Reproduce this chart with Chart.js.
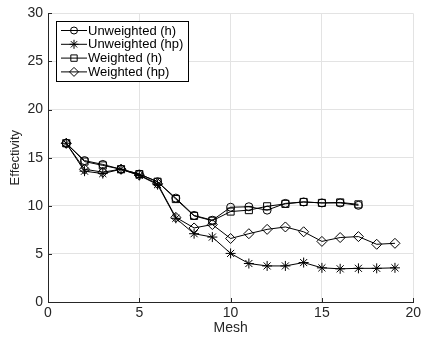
<!DOCTYPE html>
<html>
<head>
<meta charset="utf-8">
<script src="https://cdn.jsdelivr.net/npm/chart.js@4/dist/chart.umd.min.js"></script>
<style>
    html, body { margin: 0; padding: 0; background: #fff; }
    #wrap { width: 424px; height: 337px; position: relative; }
</style>
</head>
<body>
<div id="wrap"><canvas id="chart"></canvas></div>
<script>
// mesh indices
const meshH = [1, 2, 3, 4, 5, 6, 7, 8, 9, 10, 11, 12, 13, 14, 15, 16, 17];
const meshHp = [1, 2, 3, 4, 5, 6, 7, 8, 9, 10, 11, 12, 13, 14, 15, 16, 17, 18, 19];

// effectivity values
const unweightedH = [16.5, 14.7, 14.3, 13.8, 13.3, 12.5, 10.8, 9.0, 8.5, 9.85, 9.9, 9.55, 10.25, 10.4, 10.3, 10.3, 10.05];
const unweightedHp = [16.5, 13.6, 13.35, 13.8, 13.15, 12.2, 8.7, 7.1, 6.75, 5.05, 4.0, 3.75, 3.75, 4.1, 3.55, 3.45, 3.5, 3.5, 3.55];
const weightedH = [16.5, 14.6, 14.2, 13.8, 13.3, 12.5, 10.7, 8.95, 8.45, 9.4, 9.55, 9.95, 10.2, 10.4, 10.3, 10.35, 10.15];
const weightedHp = [16.5, 13.8, 13.5, 13.8, 13.2, 12.3, 8.8, 7.7, 8.05, 6.6, 7.1, 7.55, 7.8, 7.3, 6.3, 6.7, 6.8, 6.0, 6.1];

const seriesNames = ['Unweighted (h)', 'Unweighted (hp)', 'Weighted (h)', 'Weighted (hp)'];
const xTicks = [0, 5, 10, 15, 20];
const yTicks = [0, 5, 10, 15, 20, 25, 30];

const FONT = "'Liberation Sans', Arial, sans-serif";
const AXIS_COLOR = '#262626';

const markers = [
    { style: 'circle', radius: 4 },
    { style: 'star', radius: 5 },
    { style: 'rect', radius: 5 },
    { style: 'rectRot', radius: 5 }
];

function toPoints(xs, ys) {
    return ys.map((y, i) => ({ x: xs[i], y }));
}

function makeSet(i, xs, ys) {
    return {
        label: seriesNames[i],
        data: toPoints(xs, ys),
        borderColor: '#000',
        borderWidth: 1,
        pointStyle: markers[i].style,
        pointRadius: markers[i].radius,
        pointBorderColor: '#000',
        pointBorderWidth: 1,
        pointBackgroundColor: 'rgba(0,0,0,0)',
        tension: 0
    };
}

// inward tick marks, matlab style
const tickPlugin = {
    id: 'inTicks',
    afterDraw(chart) {
        const { ctx, scales: { x, y }, chartArea: a } = chart;
        ctx.save();
        ctx.strokeStyle = AXIS_COLOR;
        ctx.lineWidth = 1;
        ctx.beginPath();
        xTicks.forEach(v => {
            const px = Math.round(x.getPixelForValue(v)) + 0.5;
            ctx.moveTo(px, a.bottom);
            ctx.lineTo(px, a.bottom - 4);
        });
        yTicks.forEach(v => {
            const py = Math.round(y.getPixelForValue(v)) + 0.5;
            ctx.moveTo(a.left, py);
            ctx.lineTo(a.left + 4, py);
        });
        ctx.stroke();
        ctx.restore();
    }
};

function drawMarker(ctx, style, cx, cy, r) {
    ctx.beginPath();
    if (style === 'circle') {
        ctx.arc(cx, cy, r, 0, Math.PI * 2);
    } else if (style === 'rect') {
        const s = r * Math.SQRT1_2;
        ctx.rect(cx - s, cy - s, 2 * s, 2 * s);
    } else if (style === 'rectRot') {
        ctx.moveTo(cx, cy - r);
        ctx.lineTo(cx + r, cy);
        ctx.lineTo(cx, cy + r);
        ctx.lineTo(cx - r, cy);
        ctx.closePath();
    } else if (style === 'star') {
        for (let k = 0; k < 4; k++) {
            const ang = k * Math.PI / 4;
            ctx.moveTo(cx - Math.cos(ang) * r, cy - Math.sin(ang) * r);
            ctx.lineTo(cx + Math.cos(ang) * r, cy + Math.sin(ang) * r);
        }
    }
    ctx.stroke();
}

// boxed legend with line + marker samples
const legendPlugin = {
    id: 'boxLegend',
    afterDraw(chart) {
        const ctx = chart.ctx;
        const left = 56, top = 21, w = 132, h = 60;
        ctx.save();
        ctx.fillStyle = '#fff';
        ctx.fillRect(left, top, w, h);
        ctx.strokeStyle = '#000';
        ctx.lineWidth = 1;
        ctx.strokeRect(left + 0.5, top + 0.5, w, h);
        ctx.font = '13px ' + FONT;
        ctx.textBaseline = 'middle';
        ctx.fillStyle = '#000';
        seriesNames.forEach((name, i) => {
            const cy = top + 9.5 + i * 13.8;
            ctx.beginPath();
            ctx.moveTo(left + 5, cy);
            ctx.lineTo(left + 31, cy);
            ctx.stroke();
            drawMarker(ctx, markers[i].style, left + 18, cy, markers[i].radius - 0.5);
            ctx.fillText(name, left + 32, cy + 0.5);
        });
        ctx.restore();
    }
};

new Chart(document.getElementById('chart'), {
    type: 'line',
    data: {
        datasets: [
            makeSet(0, meshH, unweightedH),
            makeSet(1, meshHp, unweightedHp),
            makeSet(2, meshH, weightedH),
            makeSet(3, meshHp, weightedHp)
        ]
    },
    options: {
        responsive: true,
        maintainAspectRatio: false,
        animation: false,
        layout: { padding: { top: 13, right: 9, left: 8, bottom: 0 } },
        plugins: {
            legend: { display: false },
            tooltip: { enabled: false }
        },
        scales: {
            x: {
                type: 'linear',
                min: 0,
                max: 20,
                afterBuildTicks: s => { s.ticks = xTicks.map(v => ({ value: v })); },
                afterFit: s => { s.height = 35; },
                grid: { color: '#e3e3e3', drawTicks: false },
                border: { color: AXIS_COLOR, width: 1 },
                ticks: { color: AXIS_COLOR, font: { family: FONT, size: 14 }, padding: 3, maxRotation: 0 },
                title: { display: true, text: 'Mesh', color: AXIS_COLOR, font: { family: FONT, size: 14 }, padding: { top: 2, bottom: 0 } }
            },
            y: {
                min: 0,
                max: 30,
                afterBuildTicks: s => { s.ticks = yTicks.map(v => ({ value: v })); },
                afterFit: s => { s.width = 40; },
                grid: { color: '#e3e3e3', drawTicks: false },
                border: { color: AXIS_COLOR, width: 1 },
                ticks: { color: AXIS_COLOR, font: { family: FONT, size: 14 }, padding: 5 },
                title: { display: true, text: 'Effectivity', color: AXIS_COLOR, font: { family: FONT, size: 13 }, padding: { top: 0, bottom: 2 } }
            }
        }
    },
    plugins: [tickPlugin, legendPlugin]
});
</script>
</body>
</html>
